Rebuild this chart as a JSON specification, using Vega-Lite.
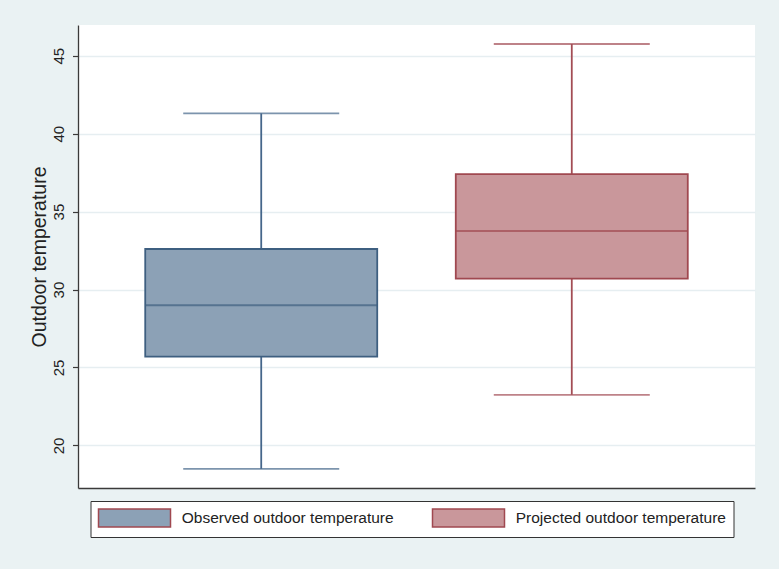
{
  "$schema": "https://vega.github.io/schema/vega-lite/v6.json",
  "autosize": {"type": "none"},
  "width": 677,
  "height": 463,
  "padding": {"left": 78, "top": 25, "right": 24, "bottom": 81},
  "background": "#EAF2F3",
  "config": {
    "font": "Liberation Sans",
    "view": {"fill": "white", "stroke": null}
  },
  "data": {
    "values": [
      {"group": "Observed outdoor temperature", "lo": 18.5, "q1": 25.7, "med": 29.0, "q3": 32.6, "hi": 41.3},
      {"group": "Projected outdoor temperature", "lo": 23.25, "q1": 30.7, "med": 33.75, "q3": 37.4, "hi": 45.75}
    ]
  },
  "encoding": {
    "x": {
      "field": "group",
      "type": "nominal",
      "sort": null,
      "scale": {"paddingInner": 0, "paddingOuter": 0.09},
      "axis": {
        "title": null,
        "labels": false,
        "ticks": false,
        "grid": false,
        "domain": true,
        "domainColor": "#3a3a3a",
        "domainWidth": 1.3
      }
    }
  },
  "layer": [
    {
      "mark": {"type": "rule", "strokeWidth": 1.8},
      "encoding": {
        "y": {
          "field": "lo",
          "type": "quantitative",
          "scale": {"domain": [17.27, 46.97], "nice": false, "zero": false},
          "axis": {
            "title": "Outdoor temperature",
            "values": [20, 25, 30, 35, 40, 45],
            "labelAngle": -90,
            "labelAlign": "center",
            "labelBaseline": "alphabetic",
            "labelFontSize": 15,
            "labelColor": "#222222",
            "labelPadding": 9.5,
            "tickSize": 5.5,
            "tickColor": "#3a3a3a",
            "tickWidth": 1.2,
            "domainColor": "#3a3a3a",
            "domainWidth": 1.3,
            "grid": true,
            "gridColor": "#E6EEF1",
            "gridWidth": 1.5,
            "titleFontSize": 19.5,
            "titleFontWeight": "normal",
            "titleColor": "#222222",
            "titleAngle": -90,
            "titleBaseline": "alphabetic",
            "titleAlign": "center",
            "titleX": -32.5,
            "titleY": 231.5
          }
        },
        "y2": {"field": "q1"},
        "color": {
          "condition": {"test": "datum.group === 'Observed outdoor temperature'", "value": "#45668A"},
          "value": "#A34D55"
        }
      }
    },
    {
      "mark": {"type": "rule", "strokeWidth": 1.8},
      "encoding": {
        "y": {"field": "q3", "type": "quantitative"},
        "y2": {"field": "hi"},
        "color": {
          "condition": {"test": "datum.group === 'Observed outdoor temperature'", "value": "#45668A"},
          "value": "#A34D55"
        }
      }
    },
    {
      "mark": {"type": "bar", "width": 232, "strokeWidth": 1.8, "fillOpacity": 1},
      "encoding": {
        "y": {"field": "q1", "type": "quantitative"},
        "y2": {"field": "q3"},
        "fill": {
          "field": "group",
          "type": "nominal",
          "sort": null,
          "scale": {"range": ["#8CA1B6", "#C9979B"]},
          "legend": {
            "title": null,
            "orient": "none",
            "direction": "horizontal",
            "legendX": 12.5,
            "legendY": 476,
            "padding": 7,
            "fillColor": "white",
            "strokeColor": "#333333",
            "symbolType": "M-1,-1H7V1H-1Z",
            "symbolSize": 324,
            "symbolOpacity": 1,
            "labelOffset": 64.2,
            "labelFontSize": 15.5,
            "labelColor": "#222222",
            "labelLimit": 400,
            "columnPadding": 35,
            "encode": {
              "symbols": {
                "update": {
                  "stroke": {"signal": "datum.value === 'Observed outdoor temperature' ? '#3E5F80' : '#A04850'"},
                  "strokeWidth": {"value": 1.8}
                }
              }
            }
          }
        },
        "stroke": {
          "condition": {"test": "datum.group === 'Observed outdoor temperature'", "value": "#3E5F80"},
          "value": "#A04850"
        }
      }
    },
    {
      "mark": {"type": "tick", "size": 232, "thickness": 2},
      "encoding": {
        "y": {"field": "med", "type": "quantitative"},
        "color": {
          "condition": {"test": "datum.group === 'Observed outdoor temperature'", "value": "#3E5F80"},
          "value": "#A04850"
        }
      }
    },
    {
      "mark": {"type": "tick", "size": 156, "thickness": 1.8},
      "encoding": {
        "y": {"field": "lo", "type": "quantitative"},
        "color": {
          "condition": {"test": "datum.group === 'Observed outdoor temperature'", "value": "#45668A"},
          "value": "#A34D55"
        }
      }
    },
    {
      "mark": {"type": "tick", "size": 156, "thickness": 1.8},
      "encoding": {
        "y": {"field": "hi", "type": "quantitative"},
        "color": {
          "condition": {"test": "datum.group === 'Observed outdoor temperature'", "value": "#45668A"},
          "value": "#A34D55"
        }
      }
    }
  ]
}
